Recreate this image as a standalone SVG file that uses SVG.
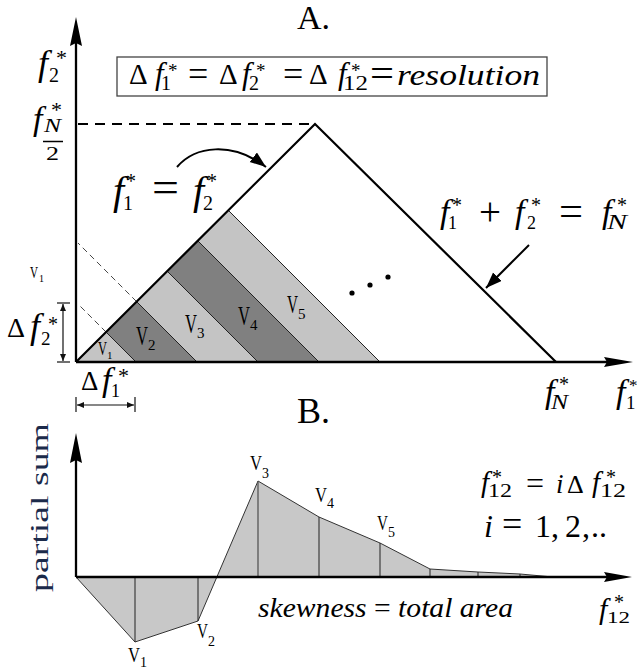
<svg xmlns="http://www.w3.org/2000/svg" width="637" height="669" viewBox="0 0 637 669">
<style>
text{font-family:"Liberation Serif","Times New Roman",serif;fill:#000}
.i{font-style:italic}
.ax{stroke:#000;stroke-width:2.3;fill:none}
.tri{stroke:#000;stroke-width:2.2;fill:none}
.band{stroke:#222;stroke-width:1}
.lt{fill:#c4c4c4}
.dk{fill:#808080}
.thin{stroke:#222;stroke-width:1;fill:none}
.dim{stroke:#111;stroke-width:1.2;fill:none}
</style>
<defs>
<marker id="ah" markerUnits="userSpaceOnUse" markerWidth="18" markerHeight="14" refX="16" refY="6" orient="auto">
<path d="M0,0 L16,6 L0,12 Z" fill="#000"/>
</marker>
<marker id="dh" markerUnits="userSpaceOnUse" markerWidth="8" markerHeight="8" refX="7" refY="3" orient="auto-start-reverse">
<path d="M0,0 L7,3 L0,6 Z" fill="#111"/>
</marker>
</defs>
<rect width="637" height="669" fill="#fff"/>

<g id="titles">
<text x="297" y="29" font-size="34">A.</text>
<text x="297" y="423" font-size="36">B.</text>
</g>

<g id="plotA-bands">
<polygon class="lt" points="76,362 136,362 106,332"/>
<polygon class="dk" points="136,362 197,362 136.5,301.5 106,332"/>
<polygon class="lt" points="197,362 258,362 167,271 136.5,301.5"/>
<polygon class="dk" points="258,362 319,362 197.5,240.5 167,271"/>
<polygon class="lt" points="319,362 380,362 228,210 197.5,240.5"/>
<line class="band" x1="136" y1="362" x2="106" y2="332"/>
<line class="band" x1="197" y1="362" x2="136.5" y2="301.5"/>
<line class="band" x1="258" y1="362" x2="167" y2="271"/>
<line class="band" x1="319" y1="362" x2="197.5" y2="240.5"/>
<line class="band" x1="380" y1="362" x2="228" y2="210"/>
<line x1="136.5" y1="301.5" x2="78" y2="243" stroke="#333" stroke-width="0.9" stroke-dasharray="6 4"/>
<line x1="106" y1="332" x2="78" y2="304" stroke="#333" stroke-width="0.9" stroke-dasharray="6 4"/>
</g>

<g id="plotA-axes">
<line class="ax" x1="76" y1="362" x2="76" y2="40"/>
<path d="M76,17 L82,46 L76,43 L70,46 Z" fill="#000"/>
<line class="ax" x1="76" y1="362" x2="610" y2="362"/>
<path d="M633,362 L604,357 L607,362 L604,367 Z" fill="#000"/>
<line x1="78" y1="124" x2="315" y2="124" stroke="#000" stroke-width="2" stroke-dasharray="10 7"/>
<polyline class="tri" points="76,362 315,124 556,362"/>
</g>

<g id="connectors">
<path d="M177,167 C195,146 232,141 266,167" stroke="#000" stroke-width="2" fill="none" marker-end="url(#ah)"/>
<line x1="529" y1="245" x2="486" y2="288" stroke="#000" stroke-width="2" marker-end="url(#ah)"/>
<line class="dim" x1="63" y1="304" x2="63" y2="361" marker-start="url(#dh)" marker-end="url(#dh)"/>
<line class="dim" x1="57" y1="303" x2="70" y2="303"/>
<line class="dim" x1="57" y1="362" x2="70" y2="362"/>
<line class="dim" x1="77" y1="405" x2="134" y2="405" marker-start="url(#dh)" marker-end="url(#dh)"/>
<line class="dim" x1="76" y1="397" x2="76" y2="412"/>
<line class="dim" x1="135" y1="397" x2="135" y2="412"/>
</g>

<g id="dots">
<circle cx="352" cy="293" r="2.6"/>
<circle cx="370" cy="285" r="2.6"/>
<circle cx="388" cy="277" r="2.6"/>
</g>

<g id="resolution-box">
<rect x="117" y="57" width="430" height="39" fill="#fff" stroke="#444" stroke-width="1.3"/>
<text x="129" y="84" font-size="29">Δ</text>
<text class="i" x="155" y="84" font-size="31">f</text>
<text x="161" y="90" font-size="20">1</text>
<text x="168" y="77" font-size="19">*</text>
<text x="188" y="86" font-size="36">=</text>
<text x="219" y="84" font-size="29">Δ</text>
<text class="i" x="242" y="84" font-size="31">f</text>
<text x="249" y="90" font-size="20">2</text>
<text x="256" y="77" font-size="19">*</text>
<text x="283" y="86" font-size="36">=</text>
<text x="309" y="84" font-size="29">Δ</text>
<text class="i" x="338" y="84" font-size="31">f</text>
<text x="343" y="90" font-size="20" textLength="25" lengthAdjust="spacingAndGlyphs">12</text>
<text x="351" y="77" font-size="19">*</text>
<text x="370" y="87" font-size="40" textLength="24" lengthAdjust="spacingAndGlyphs">=</text>
<text class="i" x="397" y="85" font-size="29" textLength="143" lengthAdjust="spacingAndGlyphs">resolution</text>
</g>

<g id="label-f2-axis">
<text class="i" x="38" y="75" font-size="36">f</text>
<text x="49" y="82" font-size="20">2</text>
<text x="56" y="65" font-size="22">*</text>
</g>

<g id="label-fN2">
<text class="i" x="33" y="130" font-size="34">f</text>
<text x="51" y="117" font-size="22">*</text>
<text class="i" x="44" y="132" font-size="18" textLength="17" lengthAdjust="spacingAndGlyphs">N</text>
<line x1="43" y1="141.5" x2="63" y2="141.5" stroke="#000" stroke-width="1.5"/>
<text x="46" y="160" font-size="18" textLength="13" lengthAdjust="spacingAndGlyphs">2</text>
</g>

<g id="label-f1eqf2">
<text class="i" x="113" y="204" font-size="40">f</text>
<text x="123" y="210" font-size="20">1</text>
<text x="126" y="188" font-size="20">*</text>
<text x="152" y="202" font-size="44" textLength="27" lengthAdjust="spacingAndGlyphs">=</text>
<text class="i" x="193" y="204" font-size="40">f</text>
<text x="203" y="210" font-size="20">2</text>
<text x="207" y="188" font-size="20">*</text>
</g>

<g id="label-sum">
<text class="i" x="440" y="223" font-size="34">f</text>
<text x="448" y="229" font-size="18">1</text>
<text x="452" y="211.5" font-size="20">*</text>
<text x="479" y="225" font-size="40" textLength="22" lengthAdjust="spacingAndGlyphs">+</text>
<text class="i" x="515" y="223" font-size="34">f</text>
<text x="527" y="229" font-size="18">2</text>
<text x="531" y="211.5" font-size="20">*</text>
<text x="559" y="225" font-size="42" textLength="24" lengthAdjust="spacingAndGlyphs">=</text>
<text class="i" x="602" y="223" font-size="34">f</text>
<text class="i" x="607" y="229" font-size="22" textLength="20" lengthAdjust="spacingAndGlyphs">N</text>
<text x="617" y="211.5" font-size="20">*</text>
</g>

<g id="label-df2">
<text x="7" y="337" font-size="28">Δ</text>
<text class="i" x="30" y="337.5" font-size="36">f</text>
<text x="41" y="345" font-size="19">2</text>
<text x="48" y="330.5" font-size="20">*</text>
</g>

<g id="label-df1">
<text x="81" y="390" font-size="27">Δ</text>
<text class="i" x="102" y="391" font-size="34">f</text>
<text x="111" y="397" font-size="18">1</text>
<text x="118" y="383" font-size="22">*</text>
</g>

<g id="label-fN-axis">
<text class="i" x="545" y="403" font-size="34">f</text>
<text class="i" x="551" y="409" font-size="20" textLength="17" lengthAdjust="spacingAndGlyphs">N</text>
<text x="559" y="390.5" font-size="20">*</text>
</g>

<g id="label-f1-axis">
<text class="i" x="616" y="403" font-size="34">f</text>
<text x="626" y="409" font-size="19">1</text>
<text x="629" y="390.5" font-size="17">*</text>
</g>

<g id="labels-V-top">
<text x="30" y="278" font-size="16" textLength="8" lengthAdjust="spacingAndGlyphs">V</text>
<text x="39" y="282" font-size="10">1</text>
<text x="98" y="355" font-size="18" textLength="9" lengthAdjust="spacingAndGlyphs">V</text>
<text x="107" y="359" font-size="11">1</text>
<text x="136" y="345" font-size="27" textLength="12" lengthAdjust="spacingAndGlyphs">V</text>
<text x="148" y="350" font-size="15">2</text>
<text x="185" y="333" font-size="27" textLength="12" lengthAdjust="spacingAndGlyphs">V</text>
<text x="197" y="338" font-size="15">3</text>
<text x="238" y="325" font-size="27" textLength="12" lengthAdjust="spacingAndGlyphs">V</text>
<text x="250" y="330" font-size="15">4</text>
<text x="287" y="313" font-size="25" textLength="11" lengthAdjust="spacingAndGlyphs">V</text>
<text x="298" y="319" font-size="15">5</text>
</g>

<g id="plotB">
<polygon points="76,577 135,642 198,621 258,481 319,517 380,543 430,569 478,572 520,574 553,577" fill="#c8c8c8" stroke="#333" stroke-width="1"/>
<line class="thin" x1="135" y1="577" x2="135" y2="642"/>
<line class="thin" x1="198" y1="577" x2="198" y2="621"/>
<line x1="258" y1="577" x2="258" y2="481" stroke="#555" stroke-width="1.3"/>
<line class="thin" x1="319" y1="577" x2="319" y2="517"/>
<line class="thin" x1="380" y1="577" x2="380" y2="543"/>
<line class="thin" x1="430" y1="577" x2="430" y2="569"/>
<line class="thin" x1="478" y1="577" x2="478" y2="572"/>
<line class="thin" x1="520" y1="577" x2="520" y2="574"/>
<line class="ax" x1="76" y1="577" x2="76" y2="455"/>
<path d="M76,433 L82,463 L76,460 L70,463 Z" fill="#000"/>
<line class="ax" x1="76" y1="577" x2="610" y2="577"/>
<path d="M632,577 L604,572 L607,577 L604,582 Z" fill="#000"/>
</g>

<g id="labels-V-bottom">
<text x="128" y="662" font-size="21" textLength="12" lengthAdjust="spacingAndGlyphs">V</text>
<text x="140" y="667" font-size="14">1</text>
<text x="197" y="638" font-size="21" textLength="11" lengthAdjust="spacingAndGlyphs">V</text>
<text x="208" y="646" font-size="14">2</text>
<text x="250" y="470" font-size="21" textLength="12" lengthAdjust="spacingAndGlyphs">V</text>
<text x="262" y="478" font-size="14">3</text>
<text x="315" y="502" font-size="21" textLength="12" lengthAdjust="spacingAndGlyphs">V</text>
<text x="327" y="508" font-size="14">4</text>
<text x="377" y="530" font-size="21" textLength="11" lengthAdjust="spacingAndGlyphs">V</text>
<text x="388" y="537" font-size="14">5</text>
</g>

<g id="label-partial-sum">
<text transform="translate(48,592) rotate(-90)" font-size="25" style="fill:#1b2a4a" textLength="169" lengthAdjust="spacingAndGlyphs">partial sum</text>
</g>

<g id="label-f12-def">
<text class="i" x="481" y="492" font-size="29">f</text>
<text x="488" y="497" font-size="18" textLength="24" lengthAdjust="spacingAndGlyphs">12</text>
<text x="492" y="483.5" font-size="20">*</text>
<text x="526" y="494" font-size="32">=</text>
<text class="i" x="556" y="493" font-size="27">i</text>
<text x="567" y="493" font-size="26">Δ</text>
<text class="i" x="592" y="492" font-size="29">f</text>
<text x="600" y="497" font-size="18" textLength="26" lengthAdjust="spacingAndGlyphs">12</text>
<text x="606" y="483.5" font-size="20">*</text>
<text class="i" x="484" y="537" font-size="32">i</text>
<text x="502" y="536" font-size="36">=</text>
<text x="535" y="537" font-size="32">1</text>
<text x="551" y="537" font-size="32">,</text>
<text x="565" y="537" font-size="32">2</text>
<text x="582" y="537" font-size="32">,</text>
<text x="591" y="537" font-size="32">..</text>
</g>

<g id="label-skewness">
<text x="258" y="617" font-size="27" textLength="255" lengthAdjust="spacingAndGlyphs"><tspan class="i">skewness</tspan> = <tspan class="i">total area</tspan></text>
</g>

<g id="label-f12-axis">
<text class="i" x="599" y="619" font-size="30">f</text>
<text x="607" y="623" font-size="17" textLength="23" lengthAdjust="spacingAndGlyphs">12</text>
<text x="614" y="608.5" font-size="20">*</text>
</g>
</svg>
